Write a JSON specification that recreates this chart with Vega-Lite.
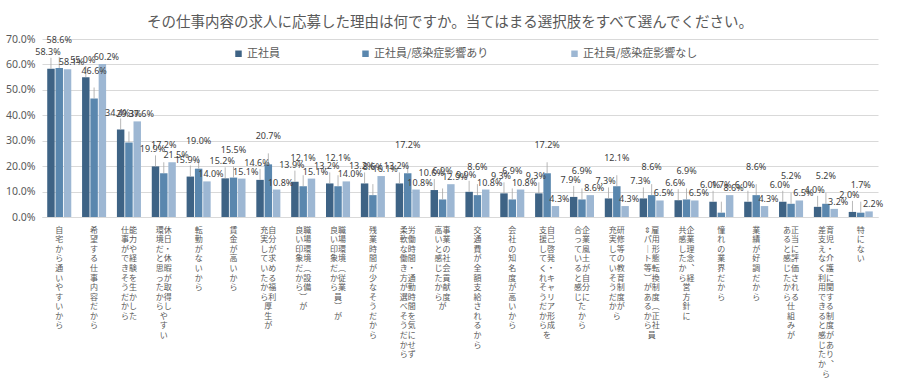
{
  "$schema": "https://vega.github.io/schema/vega-lite/v6.json",
  "width": 836,
  "height": 178,
  "autosize": {"type": "none"},
  "padding": {"left": 42, "top": 39, "right": 26, "bottom": 173},
  "background": "white",
  "config": {"view": {"stroke": null}},
  "title": {
    "text": "その仕事内容の求人に応募した理由は何ですか。当てはまる選択肢をすべて選んでください。",
    "font": "Noto Sans CJK JP",
    "fontSize": 14.5,
    "fontWeight": "normal",
    "color": "#595959",
    "anchor": "middle",
    "dx": -10,
    "offset": 4
  },
  "data": {
    "values": [
      {"cat": "自宅から通いやすいから", "s": "正社員", "v": 58.3},
      {"cat": "自宅から通いやすいから", "s": "正社員/感染症影響あり", "v": 58.6},
      {"cat": "自宅から通いやすいから", "s": "正社員/感染症影響なし", "v": 58.1},
      {"cat": "希望する仕事内容だから", "s": "正社員", "v": 55.0},
      {"cat": "希望する仕事内容だから", "s": "正社員/感染症影響あり", "v": 46.6},
      {"cat": "希望する仕事内容だから", "s": "正社員/感染症影響なし", "v": 60.2},
      {"cat": "能力や経験を生かした\n仕事ができそうだから", "s": "正社員", "v": 34.4},
      {"cat": "能力や経験を生かした\n仕事ができそうだから", "s": "正社員/感染症影響あり", "v": 29.3},
      {"cat": "能力や経験を生かした\n仕事ができそうだから", "s": "正社員/感染症影響なし", "v": 37.6},
      {"cat": "休日・休暇が取得しやすい\n環境だと思ったから", "s": "正社員", "v": 19.9},
      {"cat": "休日・休暇が取得しやすい\n環境だと思ったから", "s": "正社員/感染症影響あり", "v": 17.2},
      {"cat": "休日・休暇が取得しやすい\n環境だと思ったから", "s": "正社員/感染症影響なし", "v": 21.5},
      {"cat": "転勤がないから", "s": "正社員", "v": 15.9},
      {"cat": "転勤がないから", "s": "正社員/感染症影響あり", "v": 19.0},
      {"cat": "転勤がないから", "s": "正社員/感染症影響なし", "v": 14.0},
      {"cat": "賃金が高いから", "s": "正社員", "v": 15.2},
      {"cat": "賃金が高いから", "s": "正社員/感染症影響あり", "v": 15.5},
      {"cat": "賃金が高いから", "s": "正社員/感染症影響なし", "v": 15.1},
      {"cat": "自分が求める福利厚生が\n充実していたから", "s": "正社員", "v": 14.6},
      {"cat": "自分が求める福利厚生が\n充実していたから", "s": "正社員/感染症影響あり", "v": 20.7},
      {"cat": "自分が求める福利厚生が\n充実していたから", "s": "正社員/感染症影響なし", "v": 10.8},
      {"cat": "職場環境（設備）が\n良い印象だから", "s": "正社員", "v": 13.9},
      {"cat": "職場環境（設備）が\n良い印象だから", "s": "正社員/感染症影響あり", "v": 12.1},
      {"cat": "職場環境（設備）が\n良い印象だから", "s": "正社員/感染症影響なし", "v": 15.1},
      {"cat": "職場環境（従業員）が\n良い印象だから", "s": "正社員", "v": 13.2},
      {"cat": "職場環境（従業員）が\n良い印象だから", "s": "正社員/感染症影響あり", "v": 12.1},
      {"cat": "職場環境（従業員）が\n良い印象だから", "s": "正社員/感染症影響なし", "v": 14.0},
      {"cat": "残業時間が少なそうだから", "s": "正社員", "v": 13.2},
      {"cat": "残業時間が少なそうだから", "s": "正社員/感染症影響あり", "v": 8.6},
      {"cat": "残業時間が少なそうだから", "s": "正社員/感染症影響なし", "v": 16.1},
      {"cat": "労働時間・通勤時間を気にせず\n柔軟な働き方が選べそうだから", "s": "正社員", "v": 13.2},
      {"cat": "労働時間・通勤時間を気にせず\n柔軟な働き方が選べそうだから", "s": "正社員/感染症影響あり", "v": 17.2},
      {"cat": "労働時間・通勤時間を気にせず\n柔軟な働き方が選べそうだから", "s": "正社員/感染症影響なし", "v": 10.8},
      {"cat": "事業の社会貢献度が\n高いと感じたから", "s": "正社員", "v": 10.6},
      {"cat": "事業の社会貢献度が\n高いと感じたから", "s": "正社員/感染症影響あり", "v": 6.9},
      {"cat": "事業の社会貢献度が\n高いと感じたから", "s": "正社員/感染症影響なし", "v": 12.9},
      {"cat": "交通費が全額支給されるから", "s": "正社員", "v": 9.9},
      {"cat": "交通費が全額支給されるから", "s": "正社員/感染症影響あり", "v": 8.6},
      {"cat": "交通費が全額支給されるから", "s": "正社員/感染症影響なし", "v": 10.8},
      {"cat": "会社の知名度が高いから", "s": "正社員", "v": 9.3},
      {"cat": "会社の知名度が高いから", "s": "正社員/感染症影響あり", "v": 6.9},
      {"cat": "会社の知名度が高いから", "s": "正社員/感染症影響なし", "v": 10.8},
      {"cat": "自己啓発・キャリア形成を\n支援してくれそうだから", "s": "正社員", "v": 9.3},
      {"cat": "自己啓発・キャリア形成を\n支援してくれそうだから", "s": "正社員/感染症影響あり", "v": 17.2},
      {"cat": "自己啓発・キャリア形成を\n支援してくれそうだから", "s": "正社員/感染症影響なし", "v": 4.3},
      {"cat": "企業風土が自分に\n合っていると感じたから", "s": "正社員", "v": 7.9},
      {"cat": "企業風土が自分に\n合っていると感じたから", "s": "正社員/感染症影響あり", "v": 6.9},
      {"cat": "企業風土が自分に\n合っていると感じたから", "s": "正社員/感染症影響なし", "v": 8.6},
      {"cat": "研修等の教育制度が\n充実していそうだから", "s": "正社員", "v": 7.3},
      {"cat": "研修等の教育制度が\n充実していそうだから", "s": "正社員/感染症影響あり", "v": 12.1},
      {"cat": "研修等の教育制度が\n充実していそうだから", "s": "正社員/感染症影響なし", "v": 4.3},
      {"cat": "雇用形態転換制度（正社員\n⇔パート等）があるから", "s": "正社員", "v": 7.3},
      {"cat": "雇用形態転換制度（正社員\n⇔パート等）があるから", "s": "正社員/感染症影響あり", "v": 8.6},
      {"cat": "雇用形態転換制度（正社員\n⇔パート等）があるから", "s": "正社員/感染症影響なし", "v": 6.5},
      {"cat": "企業理念、経営方針に\n共感したから", "s": "正社員", "v": 6.6},
      {"cat": "企業理念、経営方針に\n共感したから", "s": "正社員/感染症影響あり", "v": 6.9},
      {"cat": "企業理念、経営方針に\n共感したから", "s": "正社員/感染症影響なし", "v": 6.5},
      {"cat": "憧れの業界だから", "s": "正社員", "v": 6.0},
      {"cat": "憧れの業界だから", "s": "正社員/感染症影響あり", "v": 1.7},
      {"cat": "憧れの業界だから", "s": "正社員/感染症影響なし", "v": 8.6},
      {"cat": "業績が好調だから", "s": "正社員", "v": 6.0},
      {"cat": "業績が好調だから", "s": "正社員/感染症影響あり", "v": 8.6},
      {"cat": "業績が好調だから", "s": "正社員/感染症影響なし", "v": 4.3},
      {"cat": "正当に評価される仕組みが\nあると感じたから", "s": "正社員", "v": 6.0},
      {"cat": "正当に評価される仕組みが\nあると感じたから", "s": "正社員/感染症影響あり", "v": 5.2},
      {"cat": "正当に評価される仕組みが\nあると感じたから", "s": "正社員/感染症影響なし", "v": 6.5},
      {"cat": "育児・介護に関する制度があり、\n差支えなく利用できると感じたから", "s": "正社員", "v": 4.0},
      {"cat": "育児・介護に関する制度があり、\n差支えなく利用できると感じたから", "s": "正社員/感染症影響あり", "v": 5.2},
      {"cat": "育児・介護に関する制度があり、\n差支えなく利用できると感じたから", "s": "正社員/感染症影響なし", "v": 3.2},
      {"cat": "特にない", "s": "正社員", "v": 2.0},
      {"cat": "特にない", "s": "正社員/感染症影響あり", "v": 1.7},
      {"cat": "特にない", "s": "正社員/感染症影響なし", "v": 2.2}
    ]
  },
  "transform": [
    {"calculate": "replace(replace(replace(replace(replace(datum.cat,'（','︵'),'）','︶'),'ー','｜'),'⇔','⇕'),'、','︑')", "as": "lbl"},
    {"calculate": "format(datum.v,'.1f')+'%'", "as": "t"}
  ],
  "encoding": {
    "x": {
      "field": "lbl",
      "type": "nominal",
      "sort": null,
      "scale": {"paddingInner": 0.31, "paddingOuter": 0.15},
      "axis": {
        "title": null,
        "labelAngle": 0,
        "labelOverlap": false,
        "labelLimit": 0,
        "labelFont": "Noto Sans CJK JP",
        "labelFontSize": 8,
        "labelLineHeight": 9.6,
        "labelColor": "#595959",
        "labelPadding": 9,
        "labelBaseline": "top",
        "ticks": false,
        "domainColor": "#D9D9D9",
        "labelExpr": "indexof(datum.value,'\\n')<0?split(datum.value,''):[(substring(datum.value,indexof(datum.value,'\\n')+1,indexof(datum.value,'\\n')+2)||'　')+(indexof(datum.value,'\\n')>0?substring(datum.value,0,1):'　'),(substring(datum.value,indexof(datum.value,'\\n')+2,indexof(datum.value,'\\n')+3)||'　')+(indexof(datum.value,'\\n')>1?substring(datum.value,1,2):'　'),(substring(datum.value,indexof(datum.value,'\\n')+3,indexof(datum.value,'\\n')+4)||'　')+(indexof(datum.value,'\\n')>2?substring(datum.value,2,3):'　'),(substring(datum.value,indexof(datum.value,'\\n')+4,indexof(datum.value,'\\n')+5)||'　')+(indexof(datum.value,'\\n')>3?substring(datum.value,3,4):'　'),(substring(datum.value,indexof(datum.value,'\\n')+5,indexof(datum.value,'\\n')+6)||'　')+(indexof(datum.value,'\\n')>4?substring(datum.value,4,5):'　'),(substring(datum.value,indexof(datum.value,'\\n')+6,indexof(datum.value,'\\n')+7)||'　')+(indexof(datum.value,'\\n')>5?substring(datum.value,5,6):'　'),(substring(datum.value,indexof(datum.value,'\\n')+7,indexof(datum.value,'\\n')+8)||'　')+(indexof(datum.value,'\\n')>6?substring(datum.value,6,7):'　'),(substring(datum.value,indexof(datum.value,'\\n')+8,indexof(datum.value,'\\n')+9)||'　')+(indexof(datum.value,'\\n')>7?substring(datum.value,7,8):'　'),(substring(datum.value,indexof(datum.value,'\\n')+9,indexof(datum.value,'\\n')+10)||'　')+(indexof(datum.value,'\\n')>8?substring(datum.value,8,9):'　'),(substring(datum.value,indexof(datum.value,'\\n')+10,indexof(datum.value,'\\n')+11)||'　')+(indexof(datum.value,'\\n')>9?substring(datum.value,9,10):'　'),(substring(datum.value,indexof(datum.value,'\\n')+11,indexof(datum.value,'\\n')+12)||'　')+(indexof(datum.value,'\\n')>10?substring(datum.value,10,11):'　'),(substring(datum.value,indexof(datum.value,'\\n')+12,indexof(datum.value,'\\n')+13)||'　')+(indexof(datum.value,'\\n')>11?substring(datum.value,11,12):'　'),(substring(datum.value,indexof(datum.value,'\\n')+13,indexof(datum.value,'\\n')+14)||'　')+(indexof(datum.value,'\\n')>12?substring(datum.value,12,13):'　'),(substring(datum.value,indexof(datum.value,'\\n')+14,indexof(datum.value,'\\n')+15)||'　')+(indexof(datum.value,'\\n')>13?substring(datum.value,13,14):'　'),(substring(datum.value,indexof(datum.value,'\\n')+15,indexof(datum.value,'\\n')+16)||'　')+(indexof(datum.value,'\\n')>14?substring(datum.value,14,15):'　'),(substring(datum.value,indexof(datum.value,'\\n')+16,indexof(datum.value,'\\n')+17)||'　')+(indexof(datum.value,'\\n')>15?substring(datum.value,15,16):'　')]"
      }
    },
    "xOffset": {
      "field": "s",
      "type": "nominal",
      "scale": {"domain": ["正社員", "正社員/感染症影響あり", "正社員/感染症影響なし"], "paddingInner": 0.1}
    },
    "y": {
      "field": "v",
      "type": "quantitative",
      "scale": {"domain": [0, 70]},
      "axis": {
        "title": null,
        "values": [0, 10, 20, 30, 40, 50, 60, 70],
        "labelExpr": "format(datum.value,'.1f')+'%'",
        "labelFont": "Noto Sans",
        "labelFontSize": 10.5,
        "labelColor": "#595959",
        "labelPadding": 7,
        "ticks": false,
        "domain": false,
        "gridColor": "#D9D9D9"
      }
    }
  },
  "layer": [
    {
      "mark": {"type": "bar"},
      "encoding": {
        "color": {
          "field": "s",
          "type": "nominal",
          "scale": {"domain": ["正社員", "正社員/感染症影響あり", "正社員/感染症影響なし"], "range": ["#3E6385", "#5A87AE", "#9DB7D3"]},
          "legend": {
            "title": null,
            "orient": "none",
            "legendX": 191,
            "legendY": 9,
            "direction": "horizontal",
            "symbolType": "square",
            "symbolSize": 42,
            "symbolStrokeWidth": 0,
            "labelFont": "Noto Sans CJK JP",
            "labelFontSize": 11,
            "labelColor": "#595959",
            "labelOffset": 3,
            "columnPadding": 80
          }
        }
      }
    },
    {
      "transform": [{"filter": "datum.s != '正社員/感染症影響なし'"}],
      "mark": {"type": "rule", "color": "#A6A6A6", "strokeWidth": 0.8, "y2Offset": -11},
      "encoding": {"y2": {"field": "v"}}
    },
    {
      "transform": [{"filter": "datum.s == '正社員'"}],
      "mark": {"type": "text", "dy": -17, "dx": -3, "font": "Noto Sans", "fontSize": 9, "color": "#404040"},
      "encoding": {"text": {"field": "t"}}
    },
    {
      "transform": [{"filter": "datum.s == '正社員/感染症影響あり'"}],
      "mark": {"type": "text", "dy": -28, "font": "Noto Sans", "fontSize": 9, "color": "#404040"},
      "encoding": {"text": {"field": "t"}}
    },
    {
      "transform": [{"filter": "datum.s == '正社員/感染症影響なし'"}],
      "mark": {"type": "text", "dy": -7, "dx": 4, "font": "Noto Sans", "fontSize": 9, "color": "#404040"},
      "encoding": {"text": {"field": "t"}}
    }
  ]
}
